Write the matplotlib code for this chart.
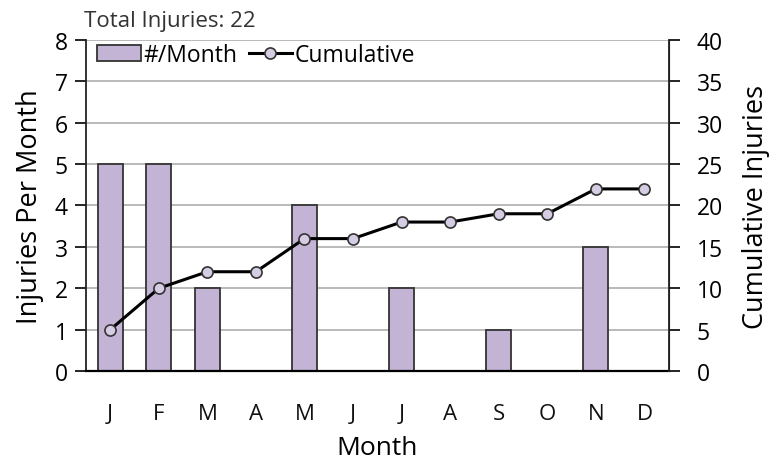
import matplotlib
matplotlib.use("Agg")
import matplotlib.pyplot as plt
import numpy as np

months = ["J", "F", "M", "A", "M", "J", "J", "A", "S", "O", "N", "D"]
per_month = [5, 5, 2, 0, 4, 0, 2, 0, 1, 0, 3, 0]
cumulative = [5, 10, 12, 12, 16, 16, 18, 18, 19, 19, 22, 22]
left_ticks = [0, 1, 2, 3, 4, 5, 6, 7, 8]
right_ticks = [0, 5, 10, 15, 20, 25, 30, 35, 40]

plt.rcParams['font.family'] = ['Open Sans', 'DejaVu Sans']

fig = plt.figure(figsize=(7.74, 4.64), dpi=100)
ax = fig.add_axes([0.111, 0.198, 0.753, 0.714])
x = np.arange(len(months))

ax.set_ylim(0, 8)
ax.set_xlim(-0.5, len(months) - 0.5)
ax.set_yticks(left_ticks)
ax.yaxis.grid(True, color="#b4b4b4", linewidth=1.3)
ax.set_axisbelow(True)
bars = ax.bar(x, per_month, width=0.51, color="#c3b3d5", edgecolor="#333333",
              linewidth=1.3, label="#/Month", zorder=2)
ax.set_xticks(x)
ax.set_xticklabels(months)
ax.tick_params(axis="x", length=0, labelsize=16, pad=23, colors="#111111")
ax.tick_params(axis="y", length=8, width=1.2, labelsize=16.5, pad=5, direction="out")
ax.set_ylabel("Injuries Per Month", fontsize=19.5, labelpad=8)
ax.set_xlabel("Month", fontsize=19, labelpad=8)
ax.spines["top"].set_visible(False)
ax.spines["left"].set_linewidth(1.3)
ax.spines["bottom"].set_linewidth(1.6)
ax.spines["left"].set_color("#222222")

ax2 = ax.twinx()
ax2.set_ylim(0, 40)
ax2.set_yticks(right_ticks)
ax2.spines["top"].set_visible(False)
ax2.spines["left"].set_visible(False)
ax2.spines["bottom"].set_visible(False)
ax2.spines["right"].set_linewidth(1.3)
ax2.spines["right"].set_color("#222222")
ax2.tick_params(axis="y", length=8, width=1.2, labelsize=16.5, pad=12, direction="out")
line, = ax2.plot(x, cumulative, color="black", linewidth=2.2, marker="o",
                 markersize=8, markerfacecolor="#d6cde4", markeredgecolor="#333333",
                 markeredgewidth=1.2, label="Cumulative", zorder=3)
ax2.set_ylabel("Cumulative Injuries", fontsize=19.5, labelpad=14)

ax.set_zorder(ax2.get_zorder() - 1)
ax.patch.set_visible(True)
ax2.patch.set_visible(False)

leg = ax2.legend([bars, line], ["#/Month", "Cumulative"], loc="upper left",
                 ncol=2, frameon=False, fontsize=16.5, handlelength=1.9,
                 handletextpad=0.1, columnspacing=0.5, borderaxespad=0.1,
                 bbox_to_anchor=(0.0, 1.025))

fig.text(0.109, 0.93, "Total Injuries: 22", fontsize=16, color="#333333",
         ha="left", va="bottom")

fig.savefig("out.png", dpi=100)
